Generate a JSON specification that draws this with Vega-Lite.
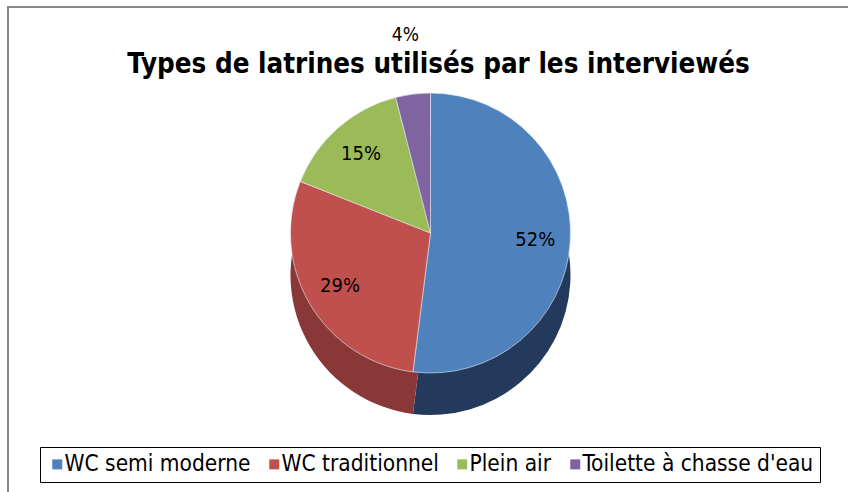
{
  "$schema": "https://vega.github.io/schema/vega-lite/v6.json",
  "width": 845,
  "height": 490,
  "autosize": {"type": "none"},
  "padding": {"left": 8, "top": 7, "right": 0, "bottom": 0},
  "background": "white",
  "config": {
    "view": {"stroke": null},
    "font": "DejaVu Sans Condensed, Roboto, sans-serif"
  },
  "title": {
    "text": "Types de latrines utilisés par les interviewés",
    "font": "DejaVu Sans Condensed, Roboto, sans-serif",
    "fontSize": 27.5,
    "fontWeight": "bold",
    "color": "black",
    "anchor": "middle",
    "baseline": "alphabetic",
    "dx": 8,
    "offset": -94
  },
  "data": {
    "values": [
      {"type": "WC semi moderne", "idx": 1, "value": 0.52},
      {"type": "WC traditionnel", "idx": 2, "value": 0.29},
      {"type": "Plein air", "idx": 3, "value": 0.15},
      {"type": "Toilette à chasse d'eau", "idx": 4, "value": 0.04}
    ]
  },
  "layer": [
    {
      "data": {"values": [{}]},
      "mark": {"type": "rect", "fill": null, "stroke": "#878787", "strokeWidth": 2},
      "encoding": {}
    },
    {
      "mark": {"type": "arc", "outerRadius": 140, "yOffset": 23},
      "encoding": {
        "theta": {"field": "value", "type": "quantitative", "stack": true},
        "order": {"field": "idx", "type": "quantitative"},
        "color": {
          "field": "type",
          "type": "nominal",
          "scale": {
            "domain": ["WC semi moderne", "WC traditionnel", "Plein air", "Toilette à chasse d'eau"],
            "range": ["#233a5c", "#8a3837", "#6e8a3c", "#5a4676"]
          },
          "legend": null
        }
      }
    },
    {
      "mark": {"type": "arc", "outerRadius": 140, "yOffset": -19, "stroke": "#e8eef6", "strokeWidth": 0.6},
      "encoding": {
        "theta": {"field": "value", "type": "quantitative", "stack": true},
        "order": {"field": "idx", "type": "quantitative"},
        "color": {
          "field": "type",
          "type": "nominal",
          "scale": {
            "domain": ["WC semi moderne", "WC traditionnel", "Plein air", "Toilette à chasse d'eau"],
            "range": ["#4f81bd", "#c0504d", "#9bbb59", "#8064a2"]
          },
          "legend": {
            "title": null,
            "orient": "none",
            "legendX": 32,
            "legendY": 440,
            "direction": "horizontal",
            "columns": 4,
            "columnPadding": 12,
            "strokeColor": "black",
            "padding": 6,
            "symbolType": "square",
            "symbolSize": 100,
            "symbolStrokeWidth": 0,
            "labelOffset": -4,
            "labelFontSize": 22.5,
            "labelFont": "DejaVu Sans Condensed, Roboto, sans-serif",
            "labelColor": "black",
            "labelLimit": 400
          }
        }
      }
    },
    {
      "mark": {"type": "text", "radius": 105, "yOffset": -19, "fontSize": 20, "color": "black"},
      "encoding": {
        "theta": {"field": "value", "type": "quantitative", "stack": true},
        "order": {"field": "idx", "type": "quantitative"},
        "detail": {"field": "type", "type": "nominal"},
        "text": {"condition": {"test": "datum.value < 0.05", "value": ""}, "field": "value", "type": "quantitative", "format": ".0%"}
      }
    },
    {
      "mark": {"type": "text", "radius": 200, "yOffset": -19, "fontSize": 19, "color": "black"},
      "encoding": {
        "theta": {"field": "value", "type": "quantitative", "stack": true},
        "order": {"field": "idx", "type": "quantitative"},
        "detail": {"field": "type", "type": "nominal"},
        "text": {"condition": {"test": "datum.value >= 0.05", "value": ""}, "field": "value", "type": "quantitative", "format": ".0%"}
      }
    }
  ],
  "resolve": {"scale": {"color": "independent"}}
}
